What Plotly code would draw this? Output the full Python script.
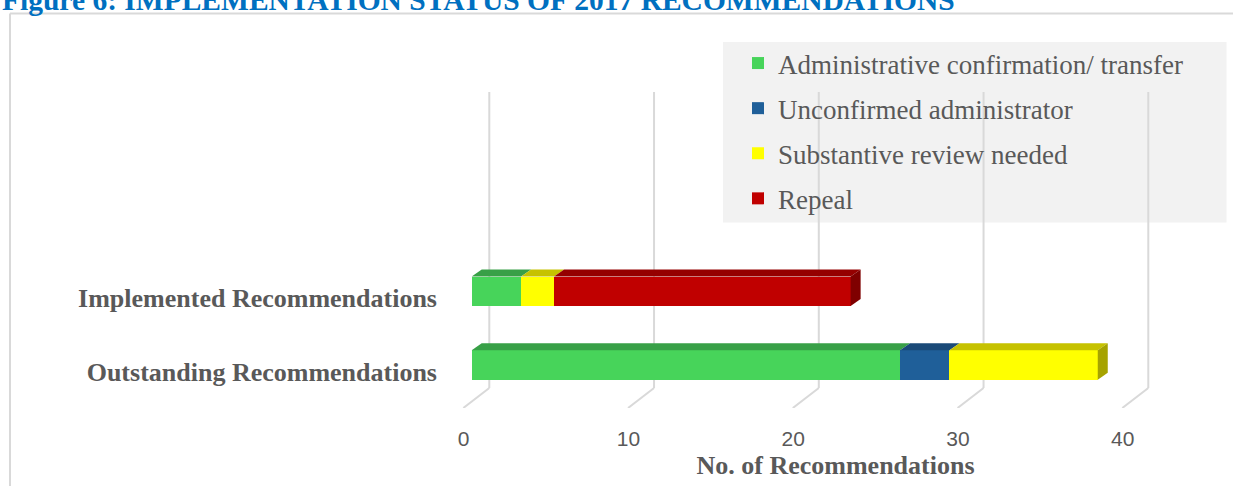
import plotly.graph_objects as go

# ---------------- data ----------------
categories = ["Outstanding Recommendations", "Implemented Recommendations"]
series_names = ["Administrative confirmation/ transfer", "Unconfirmed administrator",
                "Substantive review needed", "Repeal"]
admin_confirmation = [26, 3]
unconfirmed_admin = [3, 0]
substantive_review = [9, 2]
repeal = [0, 18]
x_ticks = [0, 10, 20, 30, 40]
title_text = "Figure 6: IMPLEMENTATION STATUS OF 2017 RECOMMENDATIONS"
x_title = "No. of Recommendations"

series_values = [admin_confirmation, unconfirmed_admin, substantive_review, repeal]
front_colors = ["#47D45A", "#1F5F99", "#FFFF00", "#C00000"]
top_colors = ["#38A047", "#1A4A78", "#C6C200", "#950000"]
side_colors = ["#2E8A3B", "#153C63", "#A6A300", "#7F0000"]

# ---------------- geometry (pixels) ----------------
W, H = 1233, 486
PL, PR, PT, PB = 438, 1233, 0, 408          # plot area in px
X0 = 471.7                                  # px of value 0 on bar front face
XS = 16.475                                 # px per unit
Y0 = 365.0                                  # px of first category centre
YS = 73.7                                   # px per category step
BAR_W = 0.4
DXP, DYP = 10.0, 7.0                        # bar depth offset (px)
BACK_DX = 489.3 - X0                        # back wall offset from bar front (px)
FLOOR_DX, FLOOR_DY = -26.0, 20.0            # front floor offset from back wall
GRID_TOP_PX, GRID_BOT_PX = 92.0, 388.0

x_range = [(PL - X0) / XS, (PR - X0) / XS]
y_range = [-(PB - Y0) / YS, (Y0 - PT) / YS]
ypos = list(range(len(categories)))


def px_x(p):
    return (p - PL) / (PR - PL)


def px_y(p):
    return (PB - p) / (PB - PT)


def dx(p):
    return p / XS


def dy(p):
    return p / YS


def ydata(p):
    return (Y0 - p) / YS


GRID = "#D9D9D9"
TXT = "#595959"

fig = go.Figure()
for name, vals, col in zip(series_names, series_values, front_colors):
    fig.add_trace(go.Bar(
        y=ypos, x=vals, name=name, orientation="h", width=BAR_W,
        marker=dict(color=col, line=dict(width=0)), legendgroup=name,
    ))

shapes = []
# frame
shapes.append(dict(type="line", xref="paper", yref="paper", x0=px_x(10), x1=px_x(1240),
                   y0=px_y(13.5), y1=px_y(13.5), line=dict(color=GRID, width=2), layer="below"))
shapes.append(dict(type="line", xref="paper", yref="paper", x0=px_x(10), x1=px_x(10),
                   y0=px_y(13.5), y1=px_y(500), line=dict(color=GRID, width=2), layer="below"))

# back-wall gridlines + floor diagonals
for t in x_ticks:
    xb = t + dx(BACK_DX)
    shapes.append(dict(type="line", xref="x", yref="y", x0=xb, x1=xb,
                       y0=ydata(GRID_TOP_PX), y1=ydata(GRID_BOT_PX),
                       line=dict(color=GRID, width=2), layer="below"))
    shapes.append(dict(type="line", xref="x", yref="y", x0=xb, x1=xb + dx(FLOOR_DX),
                       y0=ydata(GRID_BOT_PX), y1=ydata(GRID_BOT_PX + FLOOR_DY),
                       line=dict(color=GRID, width=2), layer="below"))

# legend background box
shapes.append(dict(type="rect", xref="paper", yref="paper", x0=px_x(723), x1=px_x(1226.5),
                   y0=px_y(222.5), y1=px_y(42), fillcolor="#F2F2F2", line=dict(width=0),
                   layer="below"))

# 3D faces of the bars
for i, yc in enumerate(ypos):
    start = 0
    top = yc + BAR_W / 2
    bot = yc - BAR_W / 2
    last = None
    for k, vals in enumerate(series_values):
        v = vals[i]
        if v <= 0:
            continue
        s, e = start, start + v
        path = (f"M {s},{top} L {s + dx(DXP)},{top + dy(DYP)} "
                f"L {e + dx(DXP)},{top + dy(DYP)} L {e},{top} Z")
        shapes.append(dict(type="path", xref="x", yref="y", path=path,
                           fillcolor=top_colors[k], line=dict(width=0), layer="above"))
        last = (e, k)
        start = e
    if last:
        e, k = last
        path = (f"M {e},{top} L {e + dx(DXP)},{top + dy(DYP)} "
                f"L {e + dx(DXP)},{bot + dy(DYP)} L {e},{bot} Z")
        shapes.append(dict(type="path", xref="x", yref="y", path=path,
                           fillcolor=side_colors[k], line=dict(width=0), layer="above"))

fig.update_layout(
    width=W, height=H,
    margin=dict(l=PL, r=W - PR, t=PT, b=H - PB, pad=0),
    paper_bgcolor="white", plot_bgcolor="rgba(0,0,0,0)",
    barmode="stack", bargap=0.6,
    shapes=shapes,
    showlegend=True,
    legend=dict(
        x=px_x(738), xanchor="left", y=px_y(39), yanchor="top",
        bgcolor="rgba(0,0,0,0)", borderwidth=0,
        font=dict(family="Liberation Serif", size=27, color=TXT),
        traceorder="grouped", tracegroupgap=7,
    ),
    xaxis=dict(
        range=x_range, tickvals=x_ticks, ticktext=[str(t) for t in x_ticks],
        showgrid=False, zeroline=False, showline=False, ticks="",
        tickfont=dict(family="Liberation Sans", size=21, color=TXT),
        ticklabelshift=-8, ticklabelstandoff=16,
        title=dict(text=x_title, standoff=6,
                   font=dict(family="Liberation Serif", size=26, color=TXT, weight="bold")),
    ),
    yaxis=dict(
        range=y_range, tickvals=ypos, ticktext=categories,
        showgrid=False, zeroline=False, showline=False, ticks="",
        tickfont=dict(family="Liberation Serif", size=26, color=TXT, weight="bold"),
        ticklabelshift=7, ticklabelstandoff=0,
    ),
    annotations=[dict(
        text=f"<b>{title_text}</b>", xref="paper", yref="paper",
        x=px_x(0), xanchor="left", y=px_y(0), yanchor="middle", showarrow=False,
        font=dict(family="Liberation Serif", size=29.5, color="#0070C0"),
    )],
)

fig.write_html("out.html", config={"displayModeBar": False},
               post_script="document.body.style.margin='0';")
